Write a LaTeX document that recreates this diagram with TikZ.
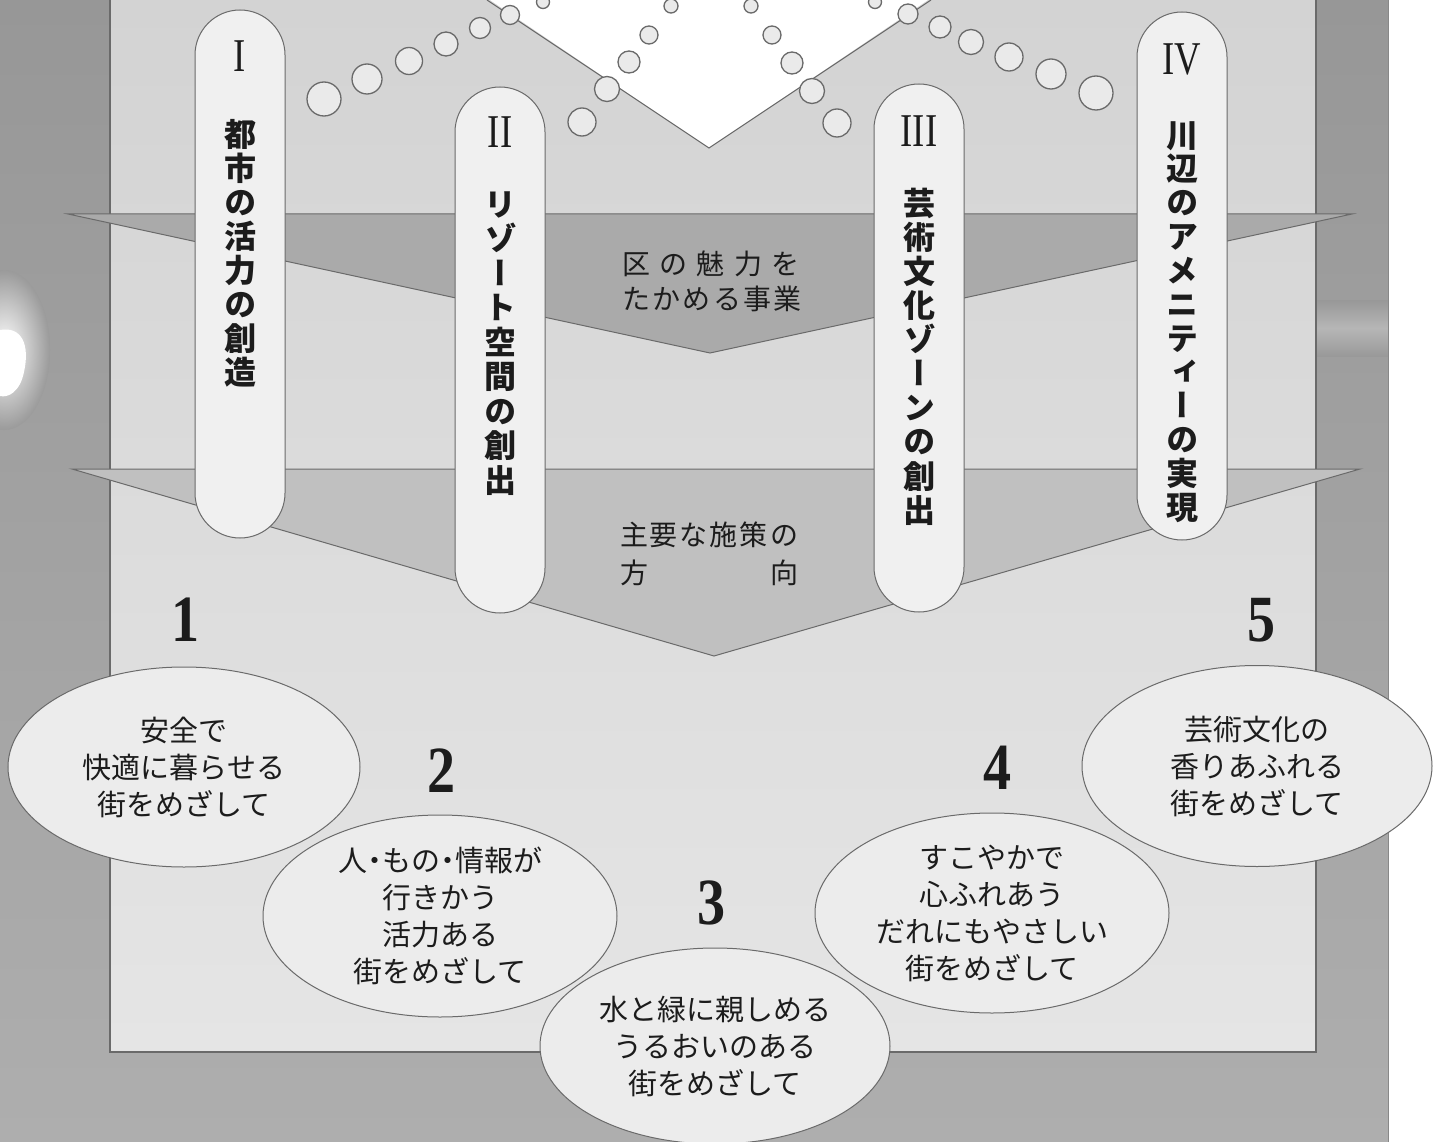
\documentclass[tikz,border=0pt]{standalone}
\usepackage{fontspec}
\setmainfont{Liberation Serif}
\newfontfamily\jp{Noto Sans CJK JP}
\newfontfamily\jpv[RawFeature=+vert]{Noto Sans CJK JP}
\newfontfamily\romf[FakeStretch=0.78]{Liberation Serif}
\newfontfamily\digf[FakeStretch=0.85]{Liberation Serif}
\usetikzlibrary{shapes.geometric}
\definecolor{bgTop}{HTML}{979797}
\definecolor{bgBot}{HTML}{AEAEAE}
\definecolor{panTop}{HTML}{D3D3D3}
\definecolor{panBot}{HTML}{E5E5E5}
\definecolor{bandA}{HTML}{AAAAAA}
\definecolor{bandB}{HTML}{C0C0C0}
\definecolor{linegray}{HTML}{6A6A6A}
\definecolor{pillfill}{HTML}{F0F0F0}
\definecolor{bubfill}{HTML}{EAEAEA}
\definecolor{ovalfill}{HTML}{ECECEC}
\definecolor{ink}{HTML}{1C1C1C}
\newcommand{\ndot}{\kern-7pt・\kern-7pt}
\tikzset{
 bubble/.style={circle, draw=linegray, fill=bubfill, line width=1.3pt, inner sep=0pt},
 pill/.style={rectangle, rounded corners=45pt, draw=linegray, fill=pillfill, line width=1pt, minimum width=90pt, inner sep=0pt},
 vchar/.style={inner sep=0pt, text height=28.2pt, text depth=3.8pt, font=\jpv\bfseries\fontsize{32}{34}\selectfont, text=ink},
 roman/.style={inner sep=0pt, font=\romf\fontsize{47}{47}\selectfont, text=ink},
 oval/.style={ellipse, draw=linegray, fill=ovalfill, line width=1pt, inner sep=0pt, align=center, font=\jp\fontsize{29}{37}\selectfont, text=ink},
 digit/.style={inner sep=0pt, font=\digf\bfseries\fontsize{66}{66}\selectfont, text=ink},
 bandtext/.style={inner sep=0pt, text height=24.6pt, text depth=3.4pt, font=\jp\fontsize{28}{28}\selectfont, text=ink},
 edge/.style={draw=linegray, line width=1pt},
}
\begin{document}
\begin{tikzpicture}[x=1pt,y=-1pt]
\useasboundingbox (0,0) rectangle (1443,1142);
\fill[white] (0,0) rectangle (1443,1142);
% dark background
\shade[top color=bgTop, bottom color=bgBot] (0,0) rectangle (1388,1142);
\shade[top color=bgTop!97!bgBot, bottom color=bgTop!90!bgBot, middle color=bgTop!70!white] (1316,300) rectangle (1388,356);
\shade[inner color=white, outer color=bgTop!85!bgBot] (4,350) ellipse (46 and 80);
\fill[white] (0,330) .. controls (22,326) and (30,345) .. (24,372) .. controls (20,392) and (8,398) .. (0,396) -- cycle;
\draw[linegray!80, line width=0.8pt] (1388,0) -- (1388,1142);
% panel
\shade[top color=panTop, bottom color=panBot] (110,-2) rectangle (1316,1052);
\draw[linegray, line width=1.2pt] (110,-2) -- (110,1052) -- (1316,1052) -- (1316,-2);
% white V
\fill[white] (487,-2) -- (709,148) -- (931,-2) -- cycle;
\draw[edge] (487,0) -- (709,148) -- (931,0);
% bands
\fill[bandA] (68,214) -- (1352,214) -- (710,353) -- cycle;
\draw[edge] (68,214) -- (1352,214) -- (710,353) -- cycle;
\fill[bandB] (72,469) -- (1360,469) -- (714,656) -- cycle;
\draw[edge] (72,469) -- (1360,469) -- (714,656) -- cycle;
% bubbles
\foreach \x/\y/\d [count=\i] in {510/15/19, 480/28/21, 446/44/24, 409/61/27, 367/79/30, 324/99/34,
  543/2/13, 671/6/14, 649/35/18, 629/62/22, 607/89/25, 582/122/28,
  875/2/13, 751/6/14, 772/35/18, 792/63/22, 812/91/25, 837/123/28,
  908/14/20, 940/27/22, 971/42/25, 1009/57/28, 1051/74/30, 1096/93/34}
  \node[bubble, minimum size=\d pt] (b\i) at (\x,\y) {};
% band texts
\node[bandtext] (t1a) at (711,264) {\makebox[177pt]{区\hfill の\hfill 魅\hfill 力\hfill を}};
\node[bandtext] (t1b) at (712,299) {\makebox[179pt]{た\hfill か\hfill め\hfill る\hfill 事\hfill 業}};
\node[bandtext] (t2a) at (709,535) {\makebox[178pt]{主\hfill 要\hfill な\hfill 施\hfill 策\hfill の}};
\node[bandtext] (t2b) at (709,573) {\makebox[178pt]{方\hfill 向}};
% pills
\node[pill, minimum height=528pt] (p1) at (240,274) {};
\node[pill, minimum height=526pt] (p2) at (500,350) {};
\node[pill, minimum height=528pt] (p3) at (919,348) {};
\node[pill, minimum height=528pt] (p4) at (1182,276) {};
\node[roman] (r1) at (240,56) {I};
\node[roman] (r2) at (500,132) {II};
\node[roman] (r3) at (919,131) {III};
\node[roman] (r4) at (1182,59) {IV};
\foreach \c [count=\i] in {都,市,の,活,力,の,創,造}
  \node[vchar] (v1\i) at (240,{134+34*(\i-1)}) {\c};
\foreach \c [count=\i] in {リ,ゾ,ー,ト,空,間,の,創,出}
  \node[vchar] (v2\i) at (500,{204+34.5*(\i-1)}) {\c};
\foreach \c [count=\i] in {芸,術,文,化,ゾ,ー,ン,の,創,出}
  \node[vchar] (v3\i) at (919,{203+34.1*(\i-1)}) {\c};
\foreach \c [count=\i] in {川,辺,の,ア,メ,ニ,テ,ィ,ー,の,実,現}
  \node[vchar] (v4\i) at (1182,{135+33.8*(\i-1)}) {\c};
% digits
\node[digit] (n1) at (186,620) {1};
\node[digit] (n2) at (442,771) {2};
\node[digit] (n3) at (712,903) {3};
\node[digit] (n4) at (998,768) {4};
\node[digit] (n5) at (1262,620) {5};
% ovals
\node[oval, minimum width=352pt, minimum height=200pt] (e1) at (184,767) {安全で\\快適に暮らせる\\街をめざして};
\node[oval, minimum width=354pt, minimum height=202pt] (e2) at (440,916) {人\ndot もの\ndot 情報が\\行きかう\\活力ある\\街をめざして};
\node[oval, minimum width=354pt, minimum height=200pt] (e4) at (992,913) {すこやかで\\心ふれあう\\だれにもやさしい\\街をめざして};
\node[oval, minimum width=350pt, minimum height=201pt] (e5) at (1257,766) {芸術文化の\\香りあふれる\\街をめざして};
\node[oval, minimum width=350pt, minimum height=196pt] (e3) at (715,1046) {水と緑に親しめる\\うるおいのある\\街をめざして};
\end{tikzpicture}
\end{document}
